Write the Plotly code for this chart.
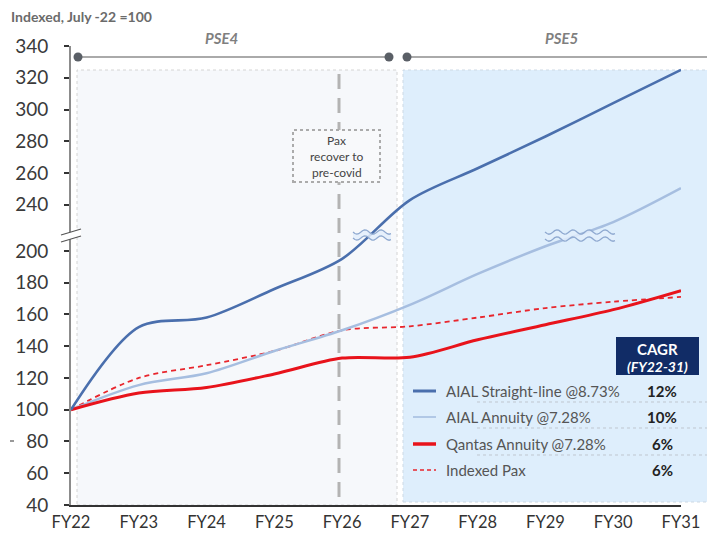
import math
import plotly.graph_objects as go

# ---------------- data ----------------
fy_labels = ['FY22', 'FY23', 'FY24', 'FY25', 'FY26', 'FY27', 'FY28', 'FY29', 'FY30', 'FY31']
aial_straight = [100, 152, 158, 176, 195, 243, 263, 283, 304, 325]
aial_annuity = [100, 115.5, 123, 137, 150, 166, 185.5, 204, 225, 250.5]
qantas_annuity = [100, 110.5, 114, 122.5, 132.5, 133, 144, 153.5, 163, 175]
indexed_pax = [100, 120, 128, 137, 150, 152.5, 158, 164, 168, 171]
y_tick_values = [40, 60, 80, 100, 120, 140, 160, 180, 200, 240, 260, 280, 300, 320, 340]
legend_names = ['AIAL Straight-line @8.73%', 'AIAL Annuity @7.28%', 'Qantas Annuity @7.28%', 'Indexed Pax']
cagr_values = ['12%', '10%', '6%', '6%']

FONT = 'Lato'
OFF = 8                      # page body margin
WIN_W, WIN_H = 715, 533
W, H = WIN_W - OFF, WIN_H - OFF
L, R, T, B = 71, 681, 46, 505   # plot area in window pixels

DARK = '#4a6fad'
LIGHT = '#a6bee0'
RED = '#e8131b'
RED2 = '#e8262d'


def brk(v):
    """broken y-axis: 200..240 is compressed"""
    if v <= 200:
        return v
    if v >= 240:
        return v - 11
    return 200 + (v - 200) * 29 / 40


def px(x):
    return (x - L) / (R - L)


def py(y):
    return (B - y) / (B - T)


xs = list(range(len(fy_labels)))
fig = go.Figure()
series = [
    (indexed_pax, dict(color=RED2, width=1.8, dash='5px,4px')),
    (aial_annuity, dict(color=LIGHT, width=2.5)),
    (qantas_annuity, dict(color=RED, width=3)),
    (aial_straight, dict(color=DARK, width=2.6)),
]
for vals, ln in series:
    fig.add_trace(go.Scatter(
        x=xs, y=[brk(v) for v in vals], mode='lines',
        line=dict(shape='spline', smoothing=0.9, **ln),
        showlegend=False, hoverinfo='skip'))

shapes = []
# background regions
shapes.append(dict(type='rect', xref='paper', yref='paper', layer='below',
                   x0=px(77), x1=px(397), y0=py(505), y1=py(70),
                   fillcolor='#f6f8fb', line=dict(color='#d4d4d4', width=1, dash='3px,3px')))
shapes.append(dict(type='rect', xref='paper', yref='paper', layer='below',
                   x0=px(403), x1=px(716), y0=py(502), y1=py(70),
                   fillcolor='#deeefc', line=dict(color='#cdd9e4', width=1, dash='3px,3px')))
# vertical dashed line at FY26
shapes.append(dict(type='line', xref='paper', yref='paper', layer='below',
                   x0=px(339), x1=px(339), y0=py(497), y1=py(70),
                   line=dict(color='#b3b3b3', width=3, dash='15px,9px')))
# pax box
shapes.append(dict(type='rect', xref='paper', yref='paper', layer='above',
                   x0=px(293), x1=px(380), y0=py(182), y1=py(130),
                   fillcolor='#f8f9fb', line=dict(color='#ababab', width=2, dash='dot')))
# timeline
for a, b in [(78, 389), (407, 716)]:
    shapes.append(dict(type='line', xref='paper', yref='paper', layer='above',
                       x0=px(a), x1=px(b), y0=py(57), y1=py(57),
                       line=dict(color='#8e8e8e', width=1.5)))
for cx in [78, 389, 407, 714]:
    shapes.append(dict(type='circle', xref='paper', yref='paper', layer='above',
                       x0=px(cx - 4.5), x1=px(cx + 4.5), y0=py(57 + 4.5), y1=py(57 - 4.5),
                       fillcolor='#5a5f66', line=dict(width=0)))
# y-axis break marks
shapes.append(dict(type='path', xref='paper', yref='paper', layer='above',
                   path=f'M {px(61)},{py(235)} L {px(81)},{py(229)} L {px(81)},{py(236)} L {px(61)},{py(242)} Z',
                   fillcolor='white', line=dict(width=0)))
for off in (0, 7):
    shapes.append(dict(type='line', xref='paper', yref='paper', layer='above',
                       x0=px(61), y0=py(235 + off), x1=px(81), y1=py(229 + off),
                       line=dict(color='#555555', width=1.2)))


def wave_path(x0, x1, yc, amp=2.2, period=16):
    pts = []
    n = int((x1 - x0) / 2) + 1
    for i in range(n + 1):
        x = x0 + (x1 - x0) * i / n
        y = yc + amp * math.sin(2 * math.pi * (x - x0) / period)
        pts.append((px(x), py(y)))
    return 'M ' + ' L '.join(f'{a},{b}' for a, b in pts)


def band_path(x0, x1, y_top, y_bot, amp=2.2, period=16):
    n = int((x1 - x0) / 2) + 1
    top, bot = [], []
    for i in range(n + 1):
        x = x0 + (x1 - x0) * i / n
        s = amp * math.sin(2 * math.pi * (x - x0) / period)
        top.append((px(x), py(y_top + s)))
        bot.append((px(x), py(y_bot + s)))
    pts = top + bot[::-1]
    return 'M ' + ' L '.join(f'{a},{b}' for a, b in pts) + ' Z'


for (x0, x1, yt, yb) in [(353, 391, 232, 238), (545, 615, 232, 239)]:
    shapes.append(dict(type='path', xref='paper', yref='paper', layer='above',
                       path=band_path(x0, x1, yt, yb), fillcolor='#e3effb',
                       line=dict(width=0), opacity=0.85))
    for yy in (yt, yb):
        shapes.append(dict(type='path', xref='paper', yref='paper', layer='above',
                           path=wave_path(x0, x1, yy), line=dict(color='#8fa9d0', width=1.3)))

# legend: CAGR box
shapes.append(dict(type='rect', xref='paper', yref='paper', layer='above',
                   x0=px(616), x1=px(699), y0=py(375), y1=py(337),
                   fillcolor='#112c66', line=dict(width=0)))
row_y = [391, 417, 444, 470]
samples = [dict(color=DARK, width=3), dict(color=LIGHT, width=1.6),
           dict(color=RED, width=3.5), dict(color=RED2, width=1.6, dash='4px,3px')]
for yy, ln in zip(row_y, samples):
    shapes.append(dict(type='line', xref='paper', yref='paper', layer='above',
                       x0=px(413), x1=px(436), y0=py(yy), y1=py(yy), line=ln))
for yy in [402, 428, 455]:
    shapes.append(dict(type='line', xref='paper', yref='paper', layer='above',
                       x0=px(477), x1=px(716), y0=py(yy), y1=py(yy),
                       line=dict(color='#bfc6cf', width=1, dash='3px,3px')))
# stray dash left of the "80" label
shapes.append(dict(type='line', xref='paper', yref='paper', layer='above',
                   x0=px(10), x1=px(14), y0=py(441), y1=py(441),
                   line=dict(color='#555555', width=1.2)))

annotations = []


def ann(text, x, y, size, color, xanchor='center', bold=False, italic=False):
    t = text
    if bold:
        t = f'<b>{t}</b>'
    if italic:
        t = f'<i>{t}</i>'
    annotations.append(dict(text=t, xref='paper', yref='paper', x=px(x), y=py(y),
                            xanchor=xanchor, yanchor='middle', showarrow=False,
                            font=dict(family=FONT, size=size, color=color)))


ann('Indexed, July -22 =100', 9, 16, 14, '#6b6b6b', xanchor='left', bold=True)
ann('PSE4', 221, 38, 15, '#7f7f7f', bold=True, italic=True)
ann('PSE5', 561, 38, 15, '#7f7f7f', bold=True, italic=True)
ann('Pax', 336.5, 140, 12, '#444444')
ann('recover to', 336.5, 156, 12, '#444444')
ann('pre-covid', 336.5, 172, 12, '#444444')
ann('CAGR', 657.5, 349, 15, '#ffffff', bold=True)
ann('(FY22-31)', 657.5, 366, 14, '#ffffff', bold=True, italic=True)
for yy, name, val in zip(row_y, legend_names, cagr_values):
    ann(name, 444, yy, 15, '#555555', xanchor='left')
    ann(val, 662, yy, 15, '#222222', bold=True)

fig.update_layout(
    width=W, height=H,
    margin=dict(l=L - OFF, r=(W + OFF) - R, t=T - OFF, b=(H + OFF) - B, pad=0, autoexpand=False),
    paper_bgcolor='white', plot_bgcolor='rgba(0,0,0,0)',
    font=dict(family=FONT),
    shapes=shapes, annotations=annotations,
    xaxis=dict(range=[0, 9], tickmode='array', tickvals=xs, ticktext=fy_labels,
               showline=True, linecolor='#333333', linewidth=2, ticks='',
               showgrid=False, zeroline=False, automargin=False,
               ticklabelstandoff=1,
               tickfont=dict(family=FONT, size=16.5, color='#333333')),
    yaxis=dict(range=[40, brk(340)], tickmode='array',
               tickvals=[brk(v) for v in y_tick_values],
               ticktext=[str(v) for v in y_tick_values],
               showline=True, linecolor='#8c8c8c', linewidth=2,
               ticks='outside', ticklen=5, tickcolor='#333333', tickwidth=1.5,
               ticklabelstandoff=12, automargin=False,
               showgrid=False, zeroline=False,
               tickfont=dict(family=FONT, size=19, color='#3a3a3a')),
)

fig.write_html('out.html')
